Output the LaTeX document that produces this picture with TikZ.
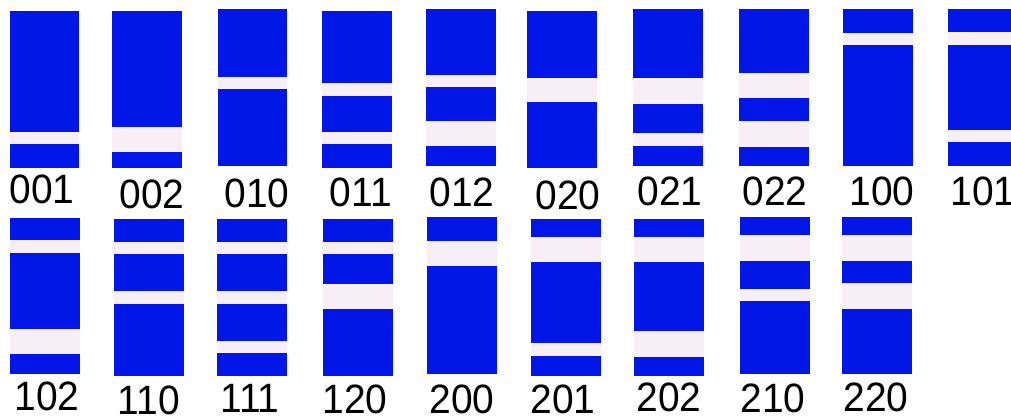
\documentclass[tikz,border=0pt]{standalone}
\usepackage{fontspec}
\setmainfont{Liberation Sans}[FakeStretch=0.95]
\definecolor{cbar}{RGB}{2,22,232}
\definecolor{cgap}{RGB}{248,238,246}
\tikzset{strips/.style={x=1pt,y=-1pt}}
\tikzset{codebar/.style={fill=cbar,draw=none},
         codegap/.style={fill=cgap,draw=none},
         codelab/.style={anchor=base,inner sep=0pt,font=\fontsize{41}{41}\selectfont}}

\begin{document}
\begin{tikzpicture}[strips]
    \useasboundingbox (0,0) rectangle (1011,416);
    % left/right/top/bottom/gaps/label/label x/label baseline
    \foreach \xl/\xr/\yt/\yb/\gaps/\lab/\lx/\ly in {
        10/79/11/168/{132/144}/001/42/203,
        112/182/11/168/{127/152}/002/152/208,
        218/287/9/166/{77/89}/010/257/207,
        322/392/11/168/{83/96,132/144}/011/361/206,
        426/496/9/166/{75/87,121/146}/012/462/206,
        527/597/11/168/{78/102}/020/568/209,
        633/703/9/166/{78/104,133/146}/021/670/205,
        739/809/9/166/{73/98,121/147}/022/775/205,
        843/913/9/166/{33/45}/100/882/205,
        948/1018/9/166/{32/45,130/142}/101/983/205,
        10/80/218/374/{240/253,329/354}/102/47/410,
        114/184/219/376/{242/254,291/304}/110/149/414,
        217/287/219/376/{242/254,291/304,341/353}/111/250/412,
        323/393/219/376/{242/254,284/309}/120/355/413,
        427/497/217/374/{241/266}/200/462/413,
        531/601/219/376/{237/262,343/356}/201/563/413,
        634/704/219/376/{237/262,331/357}/202/669/411,
        740/810/217/374/{235/261,289/301}/210/773/412,
        842/912/217/374/{235/261,283/309}/220/876/411} {
      \fill[codebar] (\xl,\yt) rectangle (\xr,\yb);
      \foreach \ga/\gb in \gaps \fill[codegap] (\xl,\ga) rectangle (\xr,\gb);
      \node[codelab] (l\lab) at (\lx,\ly) {\lab};
    }
\end{tikzpicture}
\end{document}
